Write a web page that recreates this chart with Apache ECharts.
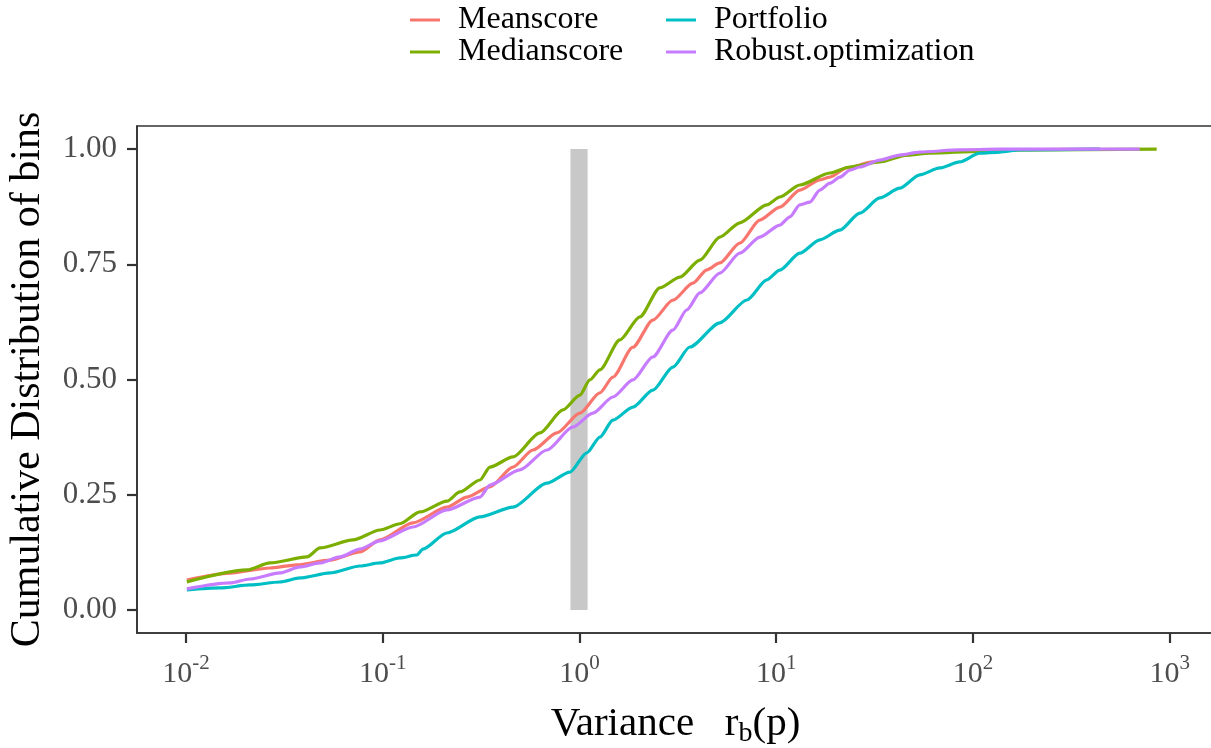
<!DOCTYPE html>
<html><head><meta charset="utf-8">
<script src="https://cdn.jsdelivr.net/npm/echarts@6/dist/echarts.min.js"></script>
<style>html,body{margin:0;padding:0;background:#fff}#c{width:1211px;height:748px}</style>
</head><body><div id="c"></div>
<script>
const seriesNames = ['Meanscore', 'Medianscore', 'Portfolio', 'Robust.optimization'];
const seriesColors = ['#F8766D', '#7CAE00', '#00BFC4', '#C77CFF'];

const meanscoreX = [0.0101, 0.0167, 0.0267, 0.0366, 0.0539, 0.0766, 0.0968, 0.1424, 0.212, 0.268, 0.3505, 0.459, 0.580, 0.768, 1.005, 1.270, 1.478, 1.868, 2.360, 2.983, 3.77, 4.44, 5.17, 6.53, 8.25, 10.43, 13.18, 16.66, 18.73, 22.84, 30.97, 46.08, 60.33, 108.3, 440.9];
const meanscoreY = [0.065, 0.080, 0.091, 0.098, 0.108, 0.126, 0.152, 0.189, 0.223, 0.245, 0.267, 0.310, 0.347, 0.384, 0.427, 0.471, 0.505, 0.570, 0.629, 0.672, 0.709, 0.738, 0.753, 0.796, 0.846, 0.874, 0.911, 0.933, 0.939, 0.959, 0.972, 0.987, 0.9935, 0.998, 1.0];

const medianscoreX = [0.0101, 0.0204, 0.0267, 0.0412, 0.0480, 0.0706, 0.0968, 0.1223, 0.1545, 0.212, 0.2467, 0.312, 0.3505, 0.459, 0.629, 0.824, 1.005, 1.129, 1.270, 1.604, 2.027, 2.562, 3.237, 4.091, 5.170, 6.531, 8.960, 10.43, 13.18, 18.73, 23.66, 33.61, 46.08, 60.33, 108.3, 172.9, 859.0];
const medianscoreY = [0.061, 0.087, 0.102, 0.115, 0.1345, 0.152, 0.1735, 0.187, 0.2126, 0.236, 0.256, 0.282, 0.310, 0.332, 0.384, 0.434, 0.466, 0.499, 0.521, 0.586, 0.636, 0.699, 0.722, 0.759, 0.809, 0.840, 0.879, 0.896, 0.922, 0.948, 0.961, 0.972, 0.987, 0.991, 0.995, 0.998, 1.0];

const portfolioX = [0.0101, 0.0149, 0.0212, 0.0300, 0.0380, 0.0539, 0.0766, 0.0968, 0.1223, 0.1492, 0.160, 0.212, 0.312, 0.459, 0.683, 0.894, 1.090, 1.270, 1.478, 1.868, 2.360, 2.983, 3.639, 5.170, 7.089, 8.960, 10.43, 13.18, 16.66, 21.05, 26.60, 33.61, 42.46, 53.66, 67.82, 85.67, 108.3, 136.8, 172.9, 440.9];
const portfolioY = [0.0434, 0.0477, 0.0542, 0.0607, 0.0694, 0.0803, 0.0954, 0.1020, 0.1128, 0.1193, 0.132, 0.167, 0.202, 0.223, 0.275, 0.299, 0.341, 0.375, 0.412, 0.440, 0.477, 0.527, 0.5705, 0.623, 0.6725, 0.716, 0.7375, 0.774, 0.803, 0.824, 0.861, 0.894, 0.915, 0.944, 0.959, 0.972, 0.991, 0.9935, 0.998, 1.0];

const robustX = [0.0101, 0.0167, 0.0212, 0.0300, 0.0380, 0.0480, 0.0606, 0.0766, 0.0968, 0.1424, 0.212, 0.3118, 0.3505, 0.498, 0.683, 0.926, 1.170, 1.478, 1.868, 2.360, 2.983, 3.513, 4.091, 5.170, 6.531, 8.254, 10.43, 11.73, 13.18, 14.82, 16.66, 18.73, 21.05, 23.66, 26.60, 33.61, 42.46, 53.66, 85.67, 136.8, 704.2];
const robustY = [0.0456, 0.0586, 0.0672, 0.0803, 0.0933, 0.1020, 0.1150, 0.1323, 0.150, 0.180, 0.217, 0.245, 0.271, 0.304, 0.347, 0.397, 0.427, 0.462, 0.499, 0.549, 0.607, 0.651, 0.688, 0.731, 0.774, 0.809, 0.835, 0.853, 0.879, 0.885, 0.911, 0.926, 0.939, 0.954, 0.961, 0.976, 0.987, 0.9935, 0.998, 1.0, 1.0];

const bandX = [0.9, 1.1];
const bandY = [0, 1];

const xTicks = [0.01, 0.1, 1, 10, 100, 1000];
const yTicks = [0, 0.25, 0.5, 0.75, 1];

const xs = [meanscoreX, medianscoreX, portfolioX, robustX];
const ys = [meanscoreY, medianscoreY, portfolioY, robustY];

const SERIF = '"Liberation Serif", "DejaVu Serif", serif';

const lineSeries = seriesNames.map((n, i) => ({
  name: n,
  type: 'line',
  data: xs[i].map((x, j) => [x, ys[i][j]]),
  showSymbol: false,
  symbol: 'none',
  smooth: 0.25,
  smoothMonotone: 'x',
  color: seriesColors[i],
  lineStyle: { width: 3.2, color: seriesColors[i], join: 'round' },
  z: 2 + i
}));

lineSeries.push({
  name: 'band',
  type: 'line',
  data: [],
  z: 10,
  markArea: {
    silent: true,
    itemStyle: { color: 'rgba(127,127,127,0.43)' },
    data: [[{ coord: [bandX[0], bandY[0]] }, { coord: [bandX[1], bandY[1]] }]]
  }
});

const legendCommon = {
  orient: 'vertical',
  top: 4,
  padding: 0,
  icon: 'rect',
  itemWidth: 30,
  itemHeight: 3,
  itemGap: 0,
  textStyle: { fontFamily: SERIF, fontSize: 32, color: '#000', lineHeight: 30, padding: [0, 0, 0, 13] }
};

const axisLineStyle = { show: true, onZero: false, lineStyle: { color: '#333', width: 1.6 } };

const option = {
  animation: false,
  backgroundColor: '#fff',
  legend: [
    Object.assign({ left: 410, data: ['Meanscore', 'Medianscore'] }, legendCommon),
    Object.assign({ left: 666, data: ['Portfolio', 'Robust.optimization'] }, legendCommon)
  ],
  grid: { left: 137, top: 126, right: -3, bottom: 115, outerBoundsMode: 'none', containLabel: false, show: true, borderColor: '#333', borderWidth: 1.6, backgroundColor: 'transparent' },
  xAxis: {
    type: 'log',
    logBase: 10,
    min: 0.005636,
    max: 1680,
    axisLine: axisLineStyle,
    splitLine: { show: false },
    minorTick: { show: false },
    axisTick: { show: true, inside: false, length: 10, lineStyle: { color: '#333', width: 2.2 }, customValues: xTicks },
    axisLabel: {
      customValues: xTicks,
      margin: 20,
      color: '#4D4D4D',
      fontFamily: SERIF,
      formatter: v => '{b|10}{s|' + Math.round(Math.log10(v)) + '}',
      rich: {
        b: { fontFamily: SERIF, fontSize: 30, color: '#4D4D4D', lineHeight: 36, verticalAlign: 'bottom' },
        s: { fontFamily: SERIF, fontSize: 21, color: '#4D4D4D', lineHeight: 21, verticalAlign: 'top' }
      }
    },
    name: '{n|Variance   r}{sub|b}{n|(p)}',
    nameLocation: 'middle',
    nameMoveOverlap: false,
    nameGap: 71,
    nameTextStyle: {
      rich: {
        n: { fontFamily: SERIF, fontSize: 41, color: '#000', lineHeight: 44, verticalAlign: 'top' },
        sub: { fontFamily: SERIF, fontSize: 28, color: '#000', lineHeight: 28, verticalAlign: 'bottom' }
      }
    }
  },
  yAxis: {
    type: 'value',
    min: -0.05,
    max: 1.05,
    axisLine: axisLineStyle,
    splitLine: { show: false },
    axisTick: { show: true, inside: false, length: 10, lineStyle: { color: '#333', width: 2.2 }, customValues: yTicks },
    axisLabel: {
      customValues: yTicks,
      margin: 20,
      color: '#4D4D4D',
      fontFamily: SERIF,
      fontSize: 31,
      formatter: v => v.toFixed(2)
    },
    name: 'Cumulative Distribution of bins',
    nameLocation: 'middle',
    nameMoveOverlap: false,
    nameRotate: 90,
    nameGap: 88,
    nameTextStyle: { fontFamily: SERIF, fontSize: 42, color: '#000' }
  },
  series: lineSeries
};

const chart = echarts.init(document.getElementById('c'), null, { renderer: 'canvas' });
chart.setOption(option);
</script>
</body></html>
